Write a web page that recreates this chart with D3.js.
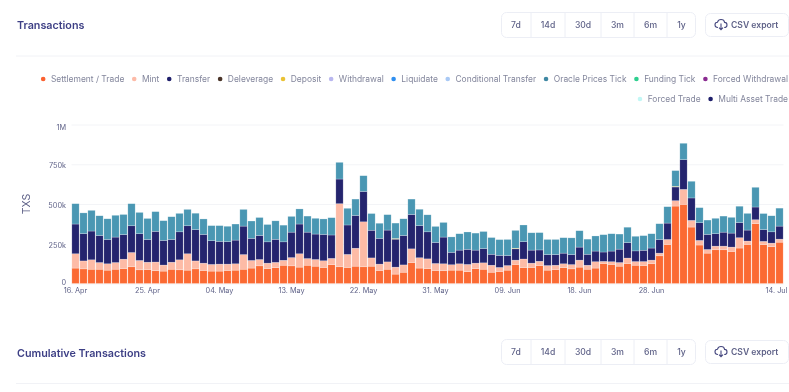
<!DOCTYPE html>
<html><head><meta charset="utf-8">
<script src="https://cdn.jsdelivr.net/npm/d3@7"></script>
<style>html,body{margin:0;padding:0;background:#fff;overflow:hidden}svg{display:block;font-family:Inter,sans-serif;filter:blur(.5px)}</style>
</head><body><svg id="c" width="789" height="392"></svg>
<script>
const dates=["16. Apr","17. Apr","18. Apr","19. Apr","20. Apr","21. Apr","22. Apr","23. Apr","24. Apr","25. Apr","26. Apr","27. Apr","28. Apr","29. Apr","30. Apr",
"01. May","02. May","03. May","04. May","05. May","06. May","07. May","08. May","09. May","10. May","11. May","12. May","13. May","14. May","15. May","16. May","17. May","18. May","19. May","20. May","21. May","22. May","23. May","24. May","25. May","26. May","27. May","28. May","29. May","30. May","31. May",
"01. Jun","02. Jun","03. Jun","04. Jun","05. Jun","06. Jun","07. Jun","08. Jun","09. Jun","10. Jun","11. Jun","12. Jun","13. Jun","14. Jun","15. Jun","16. Jun","17. Jun","18. Jun","19. Jun","20. Jun","21. Jun","22. Jun","24. Jun","25. Jun","26. Jun","27. Jun","28. Jun","29. Jun","30. Jun",
"01. Jul","02. Jul","03. Jul","04. Jul","05. Jul","06. Jul","07. Jul","08. Jul","09. Jul","10. Jul","11. Jul","12. Jul","13. Jul","14. Jul"];
const xTickLabels=["16. Apr","25. Apr","04. May","13. May","22. May","31. May","09. Jun","18. Jun","28. Jun","14. Jul"];
const yTickValues=[0,250,500,750,1000];
const settlement=[97,92,90,90,84,90,94,105,86,88,80,78,90,86,84,92,82,78,78,82,84,90,97,111,94,99,115,111,103,115,109,101,118,105,101,109,105,109,82,90,59,71,132,97,94,82,80,84,84,74,94,90,71,76,84,120,99,101,113,84,88,99,92,103,90,97,126,120,109,126,115,113,124,174,246,487,498,355,242,191,212,212,202,223,246,376,244,231,260];
const mint=[90,50,59,42,40,42,59,90,59,46,55,38,44,63,103,50,46,42,44,40,40,92,48,40,34,34,31,52,84,42,42,42,40,397,82,113,283,52,40,46,44,46,86,65,61,44,44,34,40,46,34,40,44,25,29,27,55,27,27,29,27,25,27,44,25,40,13,17,23,34,23,25,23,17,31,34,94,42,29,23,23,23,27,65,21,25,21,23,19];
const transfer=[187,172,181,170,153,160,155,168,168,143,193,155,143,176,176,197,181,149,143,141,149,179,139,151,134,145,116,160,187,166,160,166,147,155,185,206,191,174,162,200,176,185,216,202,170,132,168,78,86,95,82,90,69,76,63,71,109,82,71,69,67,67,63,82,69,67,59,67,84,97,67,71,76,86,103,86,187,141,111,95,78,88,88,95,69,80,74,71,82];
const deposit=dates.map((d,i)=>[40,55,75].includes(i)?4:0);
const oracle=[128,130,130,124,130,137,126,139,134,132,124,124,143,116,103,103,97,95,99,97,101,105,109,113,109,116,105,99,95,101,99,97,109,105,105,103,99,105,95,97,97,105,97,103,107,101,92,97,103,109,107,107,105,99,101,112,105,109,109,95,95,97,105,103,95,95,109,109,95,97,92,92,90,99,103,99,103,105,95,90,97,101,99,103,105,124,101,101,113];
const legendRow1=["Settlement / Trade","Mint","Transfer","Deleverage","Deposit","Withdrawal","Liquidate","Conditional Transfer","Oracle Prices Tick","Funding Tick","Forced Withdrawal"];
const legendRow2=["Forced Trade","Multi Asset Trade"];
const legendColors=["#fb6130","#fdbba8","#1f1f6b","#4a3428","#eac235","#b9b7ef","#2f8ff0","#a9c9f5","#3f88a3","#2ecf8f","#8a2a90","#c2f7f5","#1f1f6b"];
const rangeButtons=["7d","14d","30d","3m","6m","1y"];
const rangeEdges=[501,531,565,601,634,667,696];

const svg=d3.select("#c");
const ink="#5f6288", head="#3d3f85";

function header(title,ty,by,bh,rule){
  svg.append("text").attr("x",17).attr("y",ty).attr("font-size",10.75).attr("font-weight",600).attr("fill",head).text(title);
  svg.append("rect").attr("x",501.5).attr("y",by+.5).attr("width",194).attr("height",bh).attr("rx",5).attr("fill","#fff").attr("stroke","#eceef5");
  rangeButtons.forEach((t,i)=>{
    if(i>0)svg.append("line").attr("x1",rangeEdges[i]).attr("x2",rangeEdges[i]).attr("y1",by+.5).attr("y2",by+bh+.5).attr("stroke","#eceef5");
    svg.append("text").attr("x",(rangeEdges[i]+rangeEdges[i+1])/2).attr("y",by+bh/2+3.5).attr("text-anchor","middle").attr("font-size",8.6).attr("font-weight",500).attr("fill",ink).text(t);
  });
  svg.append("rect").attr("x",705.5).attr("y",by+1.5).attr("width",83).attr("height",bh-2).attr("rx",5).attr("fill","#fff").attr("stroke","#eceef5");
  const ic=svg.append("g").attr("transform",`translate(715,${by+bh/2-5.5})`).attr("fill","none").attr("stroke","#45477f").attr("stroke-width",1.1);
  ic.append("path").attr("d","M3 8.5C1 8.5 0 7.2 0 5.8C0 4.4 1 3.4 2.4 3.3C3 1.4 4.5 .5 6 .5C8 .5 9.4 1.8 9.6 3.4C11 3.5 12 4.5 12 5.9C12 7.3 11 8.5 9.2 8.5");
  ic.append("path").attr("d","M6 4.5V10.5M4 8.7L6 10.7L8 8.7");
  svg.append("text").attr("x",731).attr("y",by+bh/2+3.5).attr("font-size",8.6).attr("font-weight",600).attr("fill",ink).text("CSV export");
  svg.append("line").attr("x1",16).attr("x2",789).attr("y1",rule).attr("y2",rule).attr("stroke","#f1f2f6");
}
header("Transactions",29,12,25,56);
header("Cumulative Transactions",357,339,25,383.5);

function legend(names,offset,y){
  let x=788;
  for(let i=names.length-1;i>=0;i--){
    const t=svg.append("text").attr("y",y+3).attr("font-size",8.45).attr("fill","#83869c").text(names[i]);
    const w=t.node().getComputedTextLength();
    t.attr("x",x-w);
    svg.append("circle").attr("cx",x-w-7.7).attr("cy",y).attr("r",2.3).attr("fill",legendColors[offset+i]);
    x-=w+7.7+9.9;
  }
}
legend(legendRow1,0,79);
legend(legendRow2,legendRow1.length,99);

const x=d3.scaleBand().domain(dates).range([71.5,783.5]).paddingInner(.09).paddingOuter(.045);
const y=d3.scaleLinear().domain([0,1000]).range([283.5,124.5]);
const rows=dates.map((d,i)=>({date:d,settlement:settlement[i],mint:mint[i],transfer:transfer[i],deposit:deposit[i],oracle:oracle[i]}));
const keys=["settlement","mint","transfer","deposit","oracle"];
const colors={settlement:"#fb6a33",mint:"#fdbba6",transfer:"#24246e",deposit:"#eac235",oracle:"#4a97b3"};
const fmt=v=>v===0?"0":v===1000?"1M":v+"k";

const yAxis=d3.axisLeft(y).tickValues(yTickValues).tickFormat(fmt).tickSize(-712).tickPadding(5.5);
const gy=svg.append("g").attr("transform","translate(71.5,0)").call(yAxis);
gy.select(".domain").remove();
gy.selectAll(".tick line").attr("stroke","#f3f4f7");
gy.selectAll("text").attr("font-size",7.3).attr("font-family","Inter,sans-serif").attr("fill",ink)
  .attr("dy",d=>d===1000?"0.62em":d===0?"0.1em":"0.45em");

svg.append("g").selectAll("g").data(d3.stack().keys(keys)(rows)).join("g").attr("fill",s=>colors[s.key])
  .selectAll("rect").data(s=>s.filter(p=>p[1]>p[0])).join("rect")
  .attr("x",p=>x(p.data.date)).attr("width",x.bandwidth())
  .attr("y",p=>y(p[1])).attr("height",p=>y(p[0])-y(p[1]))
  .attr("stroke","#fff").attr("stroke-opacity",.45).attr("stroke-width",.5);

const xAxis=d3.axisBottom(x).tickValues(xTickLabels).tickSize(0).tickPadding(4.5);
const gx=svg.append("g").attr("transform","translate(0,283.5)").call(xAxis);
gx.select(".domain").remove();
gx.selectAll("text").attr("font-size",7.3).attr("font-family","Inter,sans-serif").attr("fill",ink)
  .attr("dx",d=>d==="14. Jul"?-3:0);

svg.append("text").attr("transform","translate(30,204) rotate(-90)").attr("text-anchor","middle").attr("font-size",10.5).attr("fill",ink).text("TXS");
</script></body></html>
